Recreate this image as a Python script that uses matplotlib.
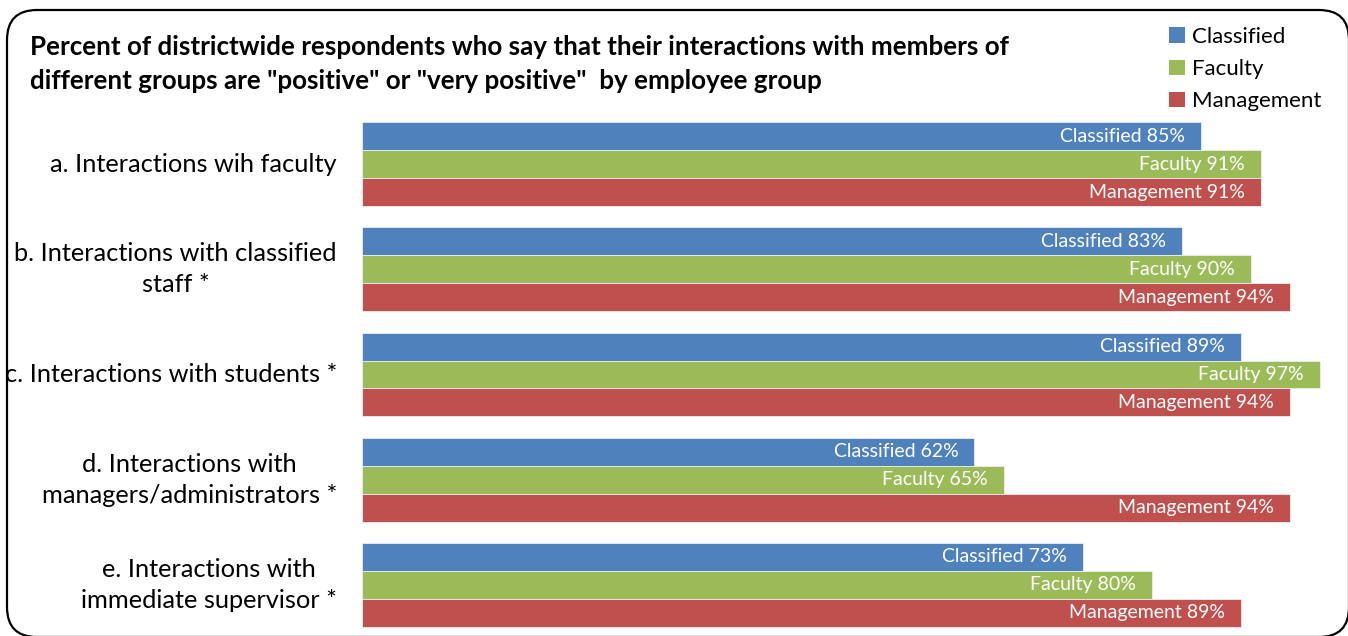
import matplotlib
matplotlib.use("Agg")
import matplotlib.pyplot as plt
from matplotlib.patches import FancyBboxPatch, Patch
from matplotlib.transforms import IdentityTransform
import numpy as np

plt.rcParams['font.family'] = ['Lato', 'DejaVu Sans']

categories = [
    "a. Interactions wih faculty",
    "b. Interactions with classified\nstaff *",
    "c. Interactions with students *",
    "d. Interactions with\nmanagers/administrators *",
    "e. Interactions with\nimmediate supervisor *",
]
series_names = ["Classified", "Faculty", "Management"]
classified = [85, 83, 89, 62, 73]
faculty = [91, 90, 97, 65, 80]
management = [91, 94, 94, 94, 89]
colors = ["#4F81BD", "#9BBB59", "#C0504D"]
title = ('Percent of districtwide respondents who say that their interactions with members of\n'
         'different groups are "positive" or "very positive"  by employee group')

W, H = 1348, 636
fig = plt.figure(figsize=(W / 100, H / 100), dpi=100)

ax_left, ax_right = 362, 1349.6
ax_top, ax_bottom = 111.4, 637.6
ax = fig.add_axes([ax_left / W, 1 - ax_bottom / H, (ax_right - ax_left) / W, (ax_bottom - ax_top) / H])
ax.set_xlim(0, 100)
n = len(categories)
ax.set_ylim(n - 0.5, -0.5)

bh = 0.266
y = np.arange(n)
for i, (name, vals, col) in enumerate(zip(series_names, [classified, faculty, management], colors)):
    pos = y - bh + i * bh
    ax.barh(pos, vals, height=bh, color=col, edgecolor='#E8EEF7', linewidth=0.6, label=name)
    for yy, v in zip(pos, vals):
        ax.annotate(f"{name} {v}%", xy=(v, yy), xytext=(-16, 0), textcoords='offset pixels',
                    ha='right', va='center', color='white', fontsize=14)

ax.set_yticks(y)
ax.set_yticklabels(categories, fontsize=18.3, multialignment='center', linespacing=1.42, va='center')
ax.tick_params(axis='y', length=0, pad=18)
ax.set_xticks([])
for s in ax.spines.values():
    s.set_visible(False)

fig.text(30 / W, 1 - 35 / H, title, ha='left', va='top', fontsize=18.7, fontweight='bold', linespacing=1.52)

handles = [Patch(facecolor=c, edgecolor='none') for c in colors]
fig.legend(handles, series_names, loc='upper left', bbox_to_anchor=(1169 / W, 1 - 27 / H),
           frameon=False, fontsize=16, handlelength=0.7, handleheight=0.7, handletextpad=0.35,
           labelspacing=0.55, borderpad=0, borderaxespad=0)

border = FancyBboxPatch((7, -1), 1342, 627,
                        boxstyle="round,pad=0,rounding_size=30", transform=IdentityTransform(),
                        facecolor='none', edgecolor='black', linewidth=1.6)
fig.patches.append(border)

fig.savefig("out.png", dpi=100)
